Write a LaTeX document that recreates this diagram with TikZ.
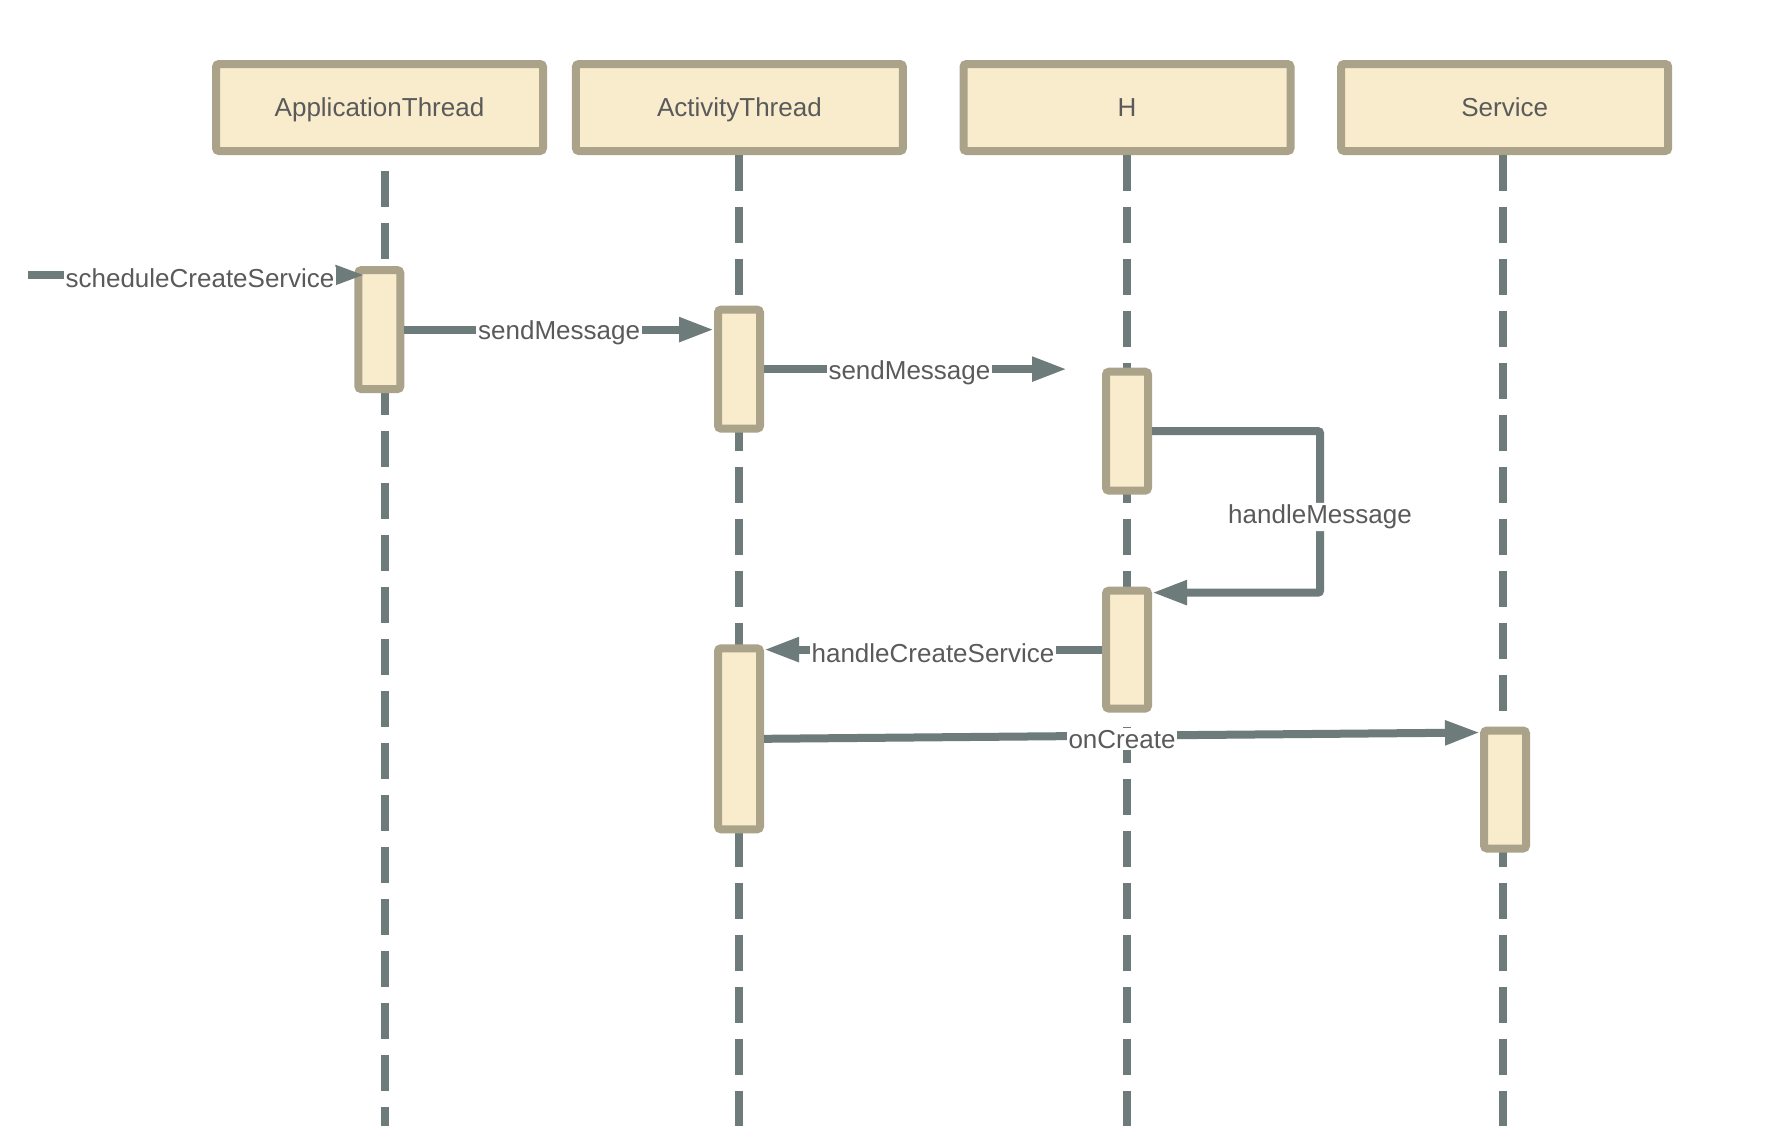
\documentclass[tikz,border=0pt]{standalone}
\usepackage{fontspec}
\setmainfont{Liberation Sans}
\usetikzlibrary{arrows.meta,calc}
\definecolor{boxfill}{HTML}{F8ECCC}
\definecolor{boxline}{HTML}{ABA28A}
\definecolor{wire}{HTML}{6E7B7B}
\definecolor{txt}{HTML}{5A5A5A}
\begin{document}
\begin{tikzpicture}[x=0.5pt,y=-0.5pt,
  header/.style={draw=boxline, fill=boxfill, line width=4pt, rounded corners=1.5pt,
    minimum width=163.5pt, minimum height=43.5pt, inner sep=0pt,
    text height=9.3pt, text depth=0pt,
    font=\fontsize{13}{15}\selectfont, text=txt},
  actbox/.style={draw=boxline, fill=boxfill, line width=4pt, rounded corners=1.5pt,
    minimum width=21pt, inner sep=0pt},
  life/.style={draw=wire, line width=4pt, dash pattern=on 18pt off 8pt},
  msg/.style={draw=wire, line width=4pt, -{Triangle[length=17.5pt,width=11.5pt]}},
  smallmsg/.style={draw=wire, line width=4pt, -{Triangle[length=15pt,width=9pt]}},
  lbl/.style={fill=white, inner sep=1pt, text=txt, yshift=-1.8pt,
    font=\fontsize{13}{15}\selectfont}
]
\useasboundingbox[fill=white] (0,0) rectangle (1770,1126);

% headers
\node[header] (at)  at (379.5,107.5) {ApplicationThread};
\node[header] (act) at (739.4,107.5) {ActivityThread};
\node[header] (h)   at (1127,107.5)  {H};
\node[header] (srv) at (1504.7,107.5) {Service};

% lifeline x positions and bottom
\coordinate (lAT) at (385,0);
\coordinate (lAcT) at (738.5,0);
\coordinate (lH) at (1126.5,0);
\coordinate (lS) at (1502.5,0);
\coordinate (bottom) at (0,1126);

\draw[life, dash phase=18pt] (at.south -| lAT) -- (bottom -| lAT);
\draw[life] (act.south -| lAcT) -- (bottom -| lAcT);
\draw[life] (h.south -| lH) -- (bottom -| lH);
\draw[life] (srv.south -| lS) -- (bottom -| lS);

% activation boxes
\node[actbox, minimum height=59.5pt] (a1) at (379.3,329.6) {};
\node[actbox, minimum height=59.5pt] (a2) at (739,369.1) {};
\node[actbox, minimum height=59.5pt] (a3) at (1127,431.2) {};
\node[actbox, minimum height=59pt]   (a4) at (1127,649.6) {};
\node[actbox, minimum height=90.5pt] (a5) at (739,738.8) {};
\node[actbox, minimum height=59pt]   (a6) at (1505,789.5) {};

% messages
\coordinate (src) at (28,275);
\draw[smallmsg] (src) -- node[lbl, pos=0.51] {scheduleCreateService} ($(a1.west |- src)+(11,0)$);

\draw[msg] (a1.east) -- node[lbl] {sendMessage} (a2.west |- a1.east);

\coordinate (m2) at (1067,0);
\draw[msg] (a2.east) -- node[lbl, pos=0.48] {sendMessage} (m2 |- a2.east);

\coordinate (hm) at (1320,0);
\coordinate (hmy) at ($(a4.north east)+(0,6)$);
\draw[msg, rounded corners=1pt] (a3.east) -- (hm |- a3.east)
  -- node[lbl, yshift=-0.8pt] {handleMessage} (hm |- hmy) -- (hmy);

\draw[msg] (a4.west) -- node[lbl] {handleCreateService} (a5.east |- a4.west);

\draw[msg] (a5.east) -- node[lbl] {onCreate} ($(a6.north west)+(0,6)$);
\end{tikzpicture}
\end{document}
